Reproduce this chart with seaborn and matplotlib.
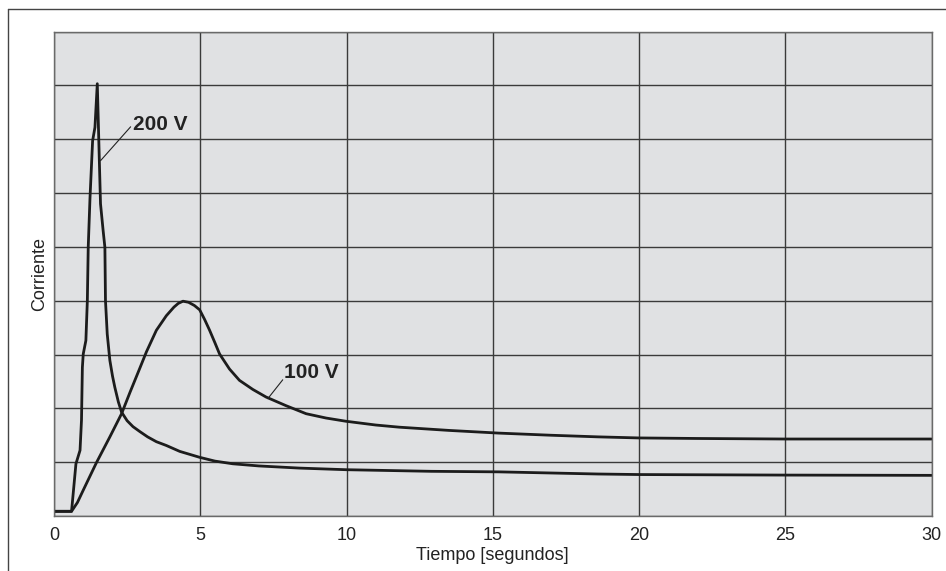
import pandas as pd
import matplotlib.pyplot as plt
import seaborn as sns
from matplotlib.lines import Line2D

# curve for 200 V (time in s, current in grid units)
t_200 = [0, 0.6, 0.75, 0.89, 0.94, 0.97, 1.0, 1.09, 1.14, 1.17, 1.23, 1.32, 1.40, 1.48,
         1.55, 1.59, 1.68, 1.74, 1.76, 1.82, 1.91, 2.0, 2.08, 2.2, 2.31, 2.5, 2.7, 2.93,
         3.2, 3.5, 3.84, 4.3, 4.98, 5.5, 6.11, 7.0, 8.39, 9.98, 12.9, 15.2, 18.6, 20, 25, 30]
i_200 = [0.087, 0.087, 0.97, 1.22, 1.78, 2.76, 3.01, 3.26, 4.0, 4.99, 5.9, 6.97, 7.22, 8.03,
         6.6, 5.8, 5.3, 4.99, 4.0, 3.38, 2.89, 2.6, 2.39, 2.12, 1.93, 1.77, 1.66, 1.57,
         1.47, 1.38, 1.31, 1.2, 1.09, 1.02, 0.97, 0.93, 0.89, 0.86, 0.83, 0.82, 0.78, 0.77,
         0.76, 0.755]

# curve for 100 V
t_100 = [0, 0.6, 0.8, 1.0, 1.45, 1.91, 2.31, 2.6, 2.93, 3.16, 3.5, 3.84, 4.1, 4.25, 4.41,
         4.6, 4.8, 4.98, 5.15, 5.32, 5.5, 5.66, 6.0, 6.34, 6.8, 7.25, 7.93, 8.62, 9.3, 9.98,
         11.0, 11.8, 13.5, 15.2, 17.0, 18.6, 20, 22, 25, 30]
i_100 = [0.087, 0.087, 0.25, 0.48, 0.99, 1.47, 1.9, 2.3, 2.74, 3.05, 3.45, 3.72, 3.88, 3.95,
         3.99, 3.97, 3.91, 3.83, 3.65, 3.45, 3.22, 3.01, 2.73, 2.52, 2.35, 2.21, 2.05, 1.9,
         1.82, 1.76, 1.69, 1.65, 1.59, 1.54, 1.5, 1.47, 1.45, 1.44, 1.43, 1.43]

x_ticks = [0, 5, 10, 15, 20, 25, 30]

df = pd.concat([
    pd.DataFrame({'Tiempo': t_200, 'Corriente': i_200, 'Tension': '200 V'}),
    pd.DataFrame({'Tiempo': t_100, 'Corriente': i_100, 'Tension': '100 V'}),
])

sns.set_style('whitegrid', {'axes.facecolor': '#e0e1e3', 'grid.color': '#3a3a3a',
                            'axes.edgecolor': '#6a6a6a'})
plt.rcParams['font.family'] = ['Liberation Sans', 'DejaVu Sans']

fig = plt.figure(figsize=(9.46, 5.71), dpi=100)
ax = fig.add_axes([54 / 946, 1 - 516 / 571, (931.5 - 54) / 946, (516 - 31.5) / 571])

sns.lineplot(data=df, x='Tiempo', y='Corriente', hue='Tension', units='Tension',
             estimator=None, sort=False, palette={'200 V': '#1c1c1c', '100 V': '#1c1c1c'},
             linewidth=2.0, legend=False, ax=ax)

ax.set_xlim(0, 30)
ax.set_ylim(0, 9)
ax.set_xticks(x_ticks)
ax.set_yticks(range(10))
ax.set_yticklabels([])
ax.grid(True, linewidth=1.0)
ax.tick_params(axis='both', length=0, labelsize=13, colors='#222222')
ax.tick_params(axis='x', pad=8)
ax.tick_params(axis='y', pad=0)
for s in ax.spines.values():
    s.set_linewidth(1.0)

ax.set_xlabel('Tiempo [segundos]', fontsize=13, color='#222222', labelpad=2)
ax.set_ylabel('Corriente', fontsize=13, color='#222222', labelpad=4)

# labels with leader lines
ax.annotate('', xy=(1.59, 6.6), xytext=(2.62, 7.23),
            arrowprops=dict(arrowstyle='-', lw=0.8, color='#222222', shrinkA=0, shrinkB=0))
ax.text(2.69, 7.27, '200 V', fontsize=15, fontweight='bold', color='#222222',
        ha='left', va='center')
ax.annotate('', xy=(7.31, 2.18), xytext=(7.82, 2.53),
            arrowprops=dict(arrowstyle='-', lw=0.8, color='#222222', shrinkA=0, shrinkB=0))
ax.text(7.85, 2.67, '100 V', fontsize=15, fontweight='bold', color='#222222',
        ha='left', va='center')

# outer frame (top and left edges only)
fig.add_artist(Line2D([8 / 946, 1], [1 - 9 / 571] * 2, transform=fig.transFigure,
                      color='#444444', lw=1.0))
fig.add_artist(Line2D([8 / 946] * 2, [0, 1 - 9 / 571], transform=fig.transFigure,
                      color='#444444', lw=1.0))

fig.savefig('out.png', dpi=100)
